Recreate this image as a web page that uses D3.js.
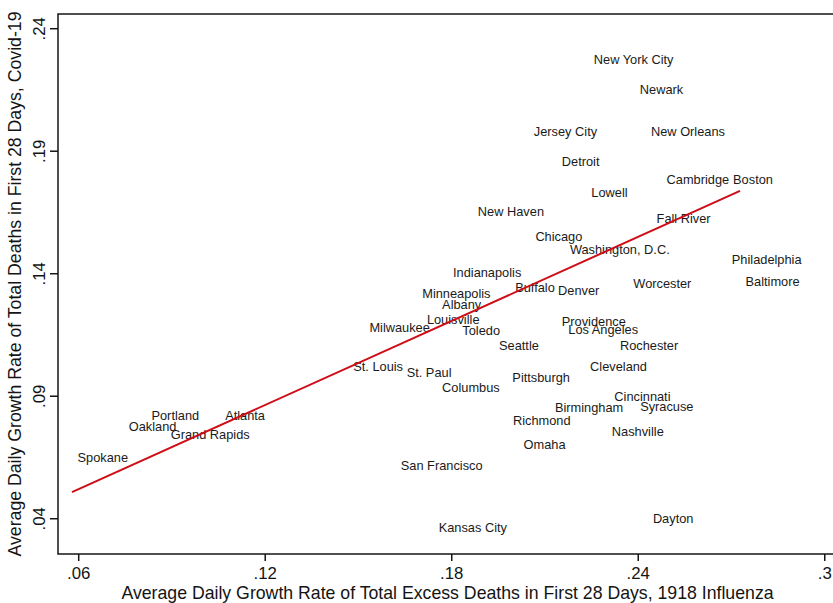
<!DOCTYPE html>
<html>
<head>
<meta charset="utf-8">
<script src="https://cdn.jsdelivr.net/npm/d3@7/dist/d3.min.js"></script>
<style>
  html, body { margin: 0; padding: 0; background: #fff; }
  svg { display: block; font-family: Arial, "Liberation Sans", Helvetica, sans-serif; }
</style>
</head>
<body>
<svg id="chart" width="833" height="603"></svg>
<script>
// City names and their average daily growth rates (first 28 days)
const cities = [
  "New York City", "Newark", "Jersey City", "New Orleans", "Detroit",
  "Cambridge", "Boston", "Lowell", "New Haven", "Fall River",
  "Chicago", "Washington, D.C.", "Philadelphia", "Indianapolis", "Worcester",
  "Baltimore", "Buffalo", "Denver", "Minneapolis", "Albany",
  "Louisville", "Toledo", "Providence", "Los Angeles", "Seattle",
  "Rochester", "Cleveland", "St. Paul", "Pittsburgh", "Columbus",
  "Cincinnati", "Birmingham", "Syracuse", "Richmond", "Nashville",
  "Omaha", "San Francisco", "Dayton", "Kansas City", "Milwaukee",
  "St. Louis", "Portland", "Atlanta", "Oakland", "Grand Rapids",
  "Spokane"
];
// 1918 influenza: growth rate of total excess deaths
const flu1918 = [
  0.2241, 0.2389, 0.2048, 0.2425, 0.2138,
  0.2475, 0.2689, 0.2233, 0.1868, 0.2443,
  0.2053, 0.2164, 0.2685, 0.1788, 0.2368,
  0.2729, 0.1988, 0.2126, 0.1689, 0.1753,
  0.1704, 0.1818, 0.2138, 0.2159, 0.1936,
  0.2325, 0.2229, 0.1639, 0.1979, 0.1753,
  0.2307, 0.2116, 0.2390, 0.1981, 0.2299,
  0.2015, 0.1620, 0.2431, 0.1742, 0.1519,
  0.1467, 0.0818, 0.1055, 0.0745, 0.0880,
  0.0580
];
// Covid-19: growth rate of total deaths
const covid19 = [
  0.2271, 0.2148, 0.1978, 0.1977, 0.1857,
  0.1781, 0.1781, 0.1731, 0.1650, 0.1624,
  0.1549, 0.1498, 0.1454, 0.1404, 0.1359,
  0.1365, 0.1343, 0.1329, 0.1318, 0.1272,
  0.1213, 0.1166, 0.1201, 0.1170, 0.1106,
  0.1107, 0.1018, 0.0993, 0.0976, 0.0933,
  0.0896, 0.0851, 0.0858, 0.0800, 0.0755,
  0.0699, 0.0615, 0.0398, 0.0363, 0.1178,
  0.1020, 0.0818, 0.0818, 0.0774, 0.0740,
  0.0647
];

// Linear fit: covid19 = fitIntercept + fitSlope * flu1918
const fitIntercept = 0.0175;
const fitSlope = 0.572;

const xTickValues = [0.06, 0.12, 0.18, 0.24, 0.30];
const xTickLabels = [".06", ".12", ".18", ".24", ".3"];
const yTickValues = [0.04, 0.09, 0.14, 0.19, 0.24];
const yTickLabels = [".04", ".09", ".14", ".19", ".24"];

const xTitle = "Average Daily Growth Rate of Total Excess Deaths in First 28 Days, 1918 Influenza";
const yTitle = "Average Daily Growth Rate of Total Deaths in First 28 Days, Covid-19";

const svg = d3.select("#chart");
const plot = { left: 58, top: 14, right: 837, bottom: 554 };

const x = d3.scaleLinear().domain([0.0535, 0.3041]).range([plot.left, plot.right]);
const y = d3.scaleLinear().domain([0.0254, 0.2458]).range([plot.bottom, plot.top]);

const points = cities.map((c, i) => ({ city: c, fx: flu1918[i], cy: covid19[i] }));

// Fitted line spans the observed range of the 1918 rate
const [xmin, xmax] = d3.extent(points, d => d.fx);
const fit = [xmin, xmax].map(v => ({ fx: v, cy: fitIntercept + fitSlope * v }));

// Plot frame
svg.append("rect")
  .attr("x", plot.left).attr("y", plot.top)
  .attr("width", plot.right - plot.left).attr("height", plot.bottom - plot.top)
  .attr("fill", "none").attr("stroke", "#141414").attr("stroke-width", 1.5);

// City labels, placed just right of each point
svg.append("g").selectAll("text")
  .data(points).join("text")
  .attr("x", d => x(d.fx) + 5.5)
  .attr("y", d => y(d.cy))
  .attr("dominant-baseline", "central")
  .attr("font-size", "12.8px")
  .attr("fill", "#1a1a1a")
  .text(d => d.city);

// Fitted line
svg.append("path")
  .datum(fit)
  .attr("d", d3.line().x(d => x(d.fx)).y(d => y(d.cy)))
  .attr("fill", "none").attr("stroke", "#cf0d17").attr("stroke-width", 2);

// X axis
const xAxis = svg.append("g")
  .attr("transform", `translate(0,${plot.bottom})`)
  .call(d3.axisBottom(x).tickValues(xTickValues)
    .tickFormat((d, i) => xTickLabels[i]).tickSize(7).tickPadding(6).tickSizeOuter(0));
xAxis.select(".domain").remove();
xAxis.selectAll("line").attr("stroke", "#141414").attr("stroke-width", 1.5);
xAxis.selectAll("text").attr("font-size", "16.8px").attr("fill", "#141414")
  .attr("font-family", null).attr("y", 19).attr("dy", null)
  .attr("dominant-baseline", "central");

// Y axis with rotated tick labels
const yAxis = svg.append("g")
  .attr("transform", `translate(${plot.left},0)`)
  .call(d3.axisLeft(y).tickValues(yTickValues)
    .tickFormat((d, i) => yTickLabels[i]).tickSize(8).tickSizeOuter(0));
yAxis.select(".domain").remove();
yAxis.selectAll("line").attr("stroke", "#141414").attr("stroke-width", 1.5);
yAxis.selectAll("text").attr("font-size", "16.8px").attr("fill", "#141414")
  .attr("font-family", null)
  .attr("transform", "rotate(-90)")
  .attr("x", 0).attr("y", -19).attr("dy", null)
  .attr("text-anchor", "middle")
  .attr("dominant-baseline", "central");

// Axis titles
svg.append("text")
  .attr("x", (plot.left + plot.right) / 2).attr("y", 593)
  .attr("text-anchor", "middle").attr("dominant-baseline", "central")
  .attr("font-size", "17.7px").attr("fill", "#141414")
  .text(xTitle);

svg.append("text")
  .attr("transform", `translate(15,${(plot.top + plot.bottom) / 2}) rotate(-90)`)
  .attr("text-anchor", "middle").attr("dominant-baseline", "central")
  .attr("font-size", "17.7px").attr("fill", "#141414")
  .text(yTitle);
</script>
</body>
</html>
